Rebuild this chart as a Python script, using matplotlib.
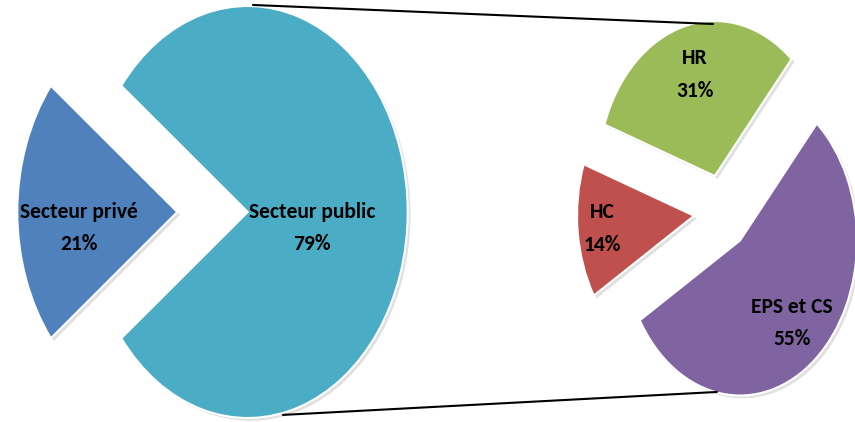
import numpy as np
import matplotlib
matplotlib.use('Agg')
import matplotlib.pyplot as plt
import matplotlib.patheffects as pe
from matplotlib.patches import ConnectionPatch

# left pie
main_labels = ['Secteur privé', 'Secteur public']
main_values = [21, 79]
main_colors = ['#4F81BD', '#4BACC6']

# right pie (detail of the public sector)
sub_labels = ['HR', 'HC', 'EPS et CS']
sub_values = [31, 14, 55]
sub_colors = ['#9BBB59', '#C0504D', '#8064A2']

W, H = 855, 422
plt.rcParams['font.family'] = ['Carlito', 'DejaVu Sans']

fig = plt.figure(figsize=(W / 100, H / 100), dpi=100)


def fit_axes(ax, cx, cy, rx, ry):
    # unit circle becomes an rx x ry ellipse centred at (cx, cy) px
    ax.set_aspect('auto')
    ax.set_xlim(-cx / rx, (W - cx) / rx)
    ax.set_ylim(-(H - cy) / ry, cy / ry)
    ax.axis('off')
    ax.patch.set_alpha(0)


shadow = [pe.SimplePatchShadow(offset=(2, -2), shadow_rgbFace='#999999', alpha=0.3), pe.Normal()]

ax1 = fig.add_axes([0, 0, 1, 1])
w1, _ = ax1.pie(main_values, colors=main_colors, startangle=142.2, counterclock=True,
                explode=[0.22, 0.22], radius=1.0,
                wedgeprops=dict(edgecolor='white', linewidth=1.5))
fit_axes(ax1, 212.5, 212, 160, 206)
for w in w1:
    w.set_path_effects(shadow)

ax2 = fig.add_axes([0, 0, 1, 1])
w2, _ = ax2.pie(sub_values, colors=sub_colors, startangle=49, counterclock=True,
                explode=[0.24, 0.24, 0.24], radius=1.0,
                wedgeprops=dict(edgecolor='white', linewidth=1.5))
fit_axes(ax2, 722, 212, 117, 155)
for w in w2:
    w.set_path_effects(shadow)

txt = dict(ha='center', va='center', fontsize=15.5, fontweight='bold', color='black',
           linespacing=1.8)


def put_labels(ax, wedges, labels, values, dists, dy=0.0):
    for w, lab, v, d in zip(wedges, labels, values, dists):
        mid = np.deg2rad((w.theta1 + w.theta2) / 2)
        ax.text(d * np.cos(mid), d * np.sin(mid) + dy, f'{lab}\n{v}%', **txt)


put_labels(ax1, w1, main_labels, main_values, [0.834, 0.622], dy=-0.078)
put_labels(ax2, w2, sub_labels, sub_values, [0.915, 1.03, 0.934])

# connector lines between the two pies
for pa, pb in [((0.253, 1.005), (-0.077, 1.213)), ((0.44, -0.985), (-0.043, -1.161))]:
    con = ConnectionPatch(xyA=pa, coordsA=ax1.transData, xyB=pb, coordsB=ax2.transData,
                          color='black', linewidth=1.5)
    fig.add_artist(con)

fig.savefig('out.png', dpi=100)
